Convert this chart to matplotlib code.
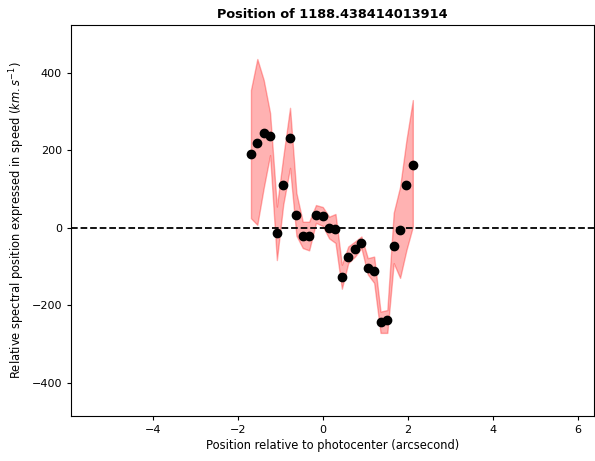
import matplotlib
matplotlib.use('Agg')
import matplotlib.pyplot as plt
import numpy as np

# positions (arcsec) and speeds (km/s)
positions = [-1.70, -1.55, -1.40, -1.25, -1.09, -0.94, -0.78, -0.63, -0.48, -0.33,
             -0.17, -0.01, 0.14, 0.29, 0.44, 0.59, 0.75, 0.90, 1.05, 1.20,
             1.35, 1.51, 1.66, 1.81, 1.96, 2.11]
speeds = [191, 219, 245, 237, -13, 111, 232, 34, -21, -21,
          34, 31, 0, -3, -126, -75, -54, -39, -103, -111,
          -243, -237, -46, -5, 111, 163]
upper = [356, 436, 382, 297, 55, 183, 310, 90, 16, 16,
         59, 54, 29, 36, -95, -48, -35, -22, -78, -74,
         -216, -212, 39, 106, 227, 330]
lower = [25, 8, 103, 188, -83, 60, 155, -20, -52, -58,
         13, 5, -27, -39, -157, -91, -74, -52, -120, -142,
         -271, -271, -91, -129, -57, 3]

plt.rcParams['xtick.labelsize'] = 8
plt.rcParams['ytick.labelsize'] = 8
plt.rcParams['xtick.major.size'] = 2.8
plt.rcParams['ytick.major.size'] = 2.8

fig = plt.figure(figsize=(5.95, 4.61), dpi=100)
ax = fig.add_axes([0.119, 0.098, 0.879, 0.848])

ax.fill_between(positions, lower, upper, color='red', alpha=0.3)
ax.plot(positions, speeds, 'o', color='black', markersize=6)
ax.axhline(0, color='black', linestyle='--', linewidth=1.3)

ax.set_xlim(-5.94, 6.37)
ax.set_ylim(-485, 524)
ax.set_xticks([-4, -2, 0, 2, 4, 6])
ax.set_yticks([-400, -200, 0, 200, 400])
ax.set_xlabel('Position relative to photocenter (arcsecond)', fontsize=8.3, labelpad=3)
ax.set_ylabel('Relative spectral position expressed in speed ($km.s^{-1}$)', fontsize=8.3, labelpad=3)
ax.set_title('Position of 1188.438414013914', fontweight='bold', fontsize=9.3, pad=5)

fig.savefig('out.png', dpi=100)
